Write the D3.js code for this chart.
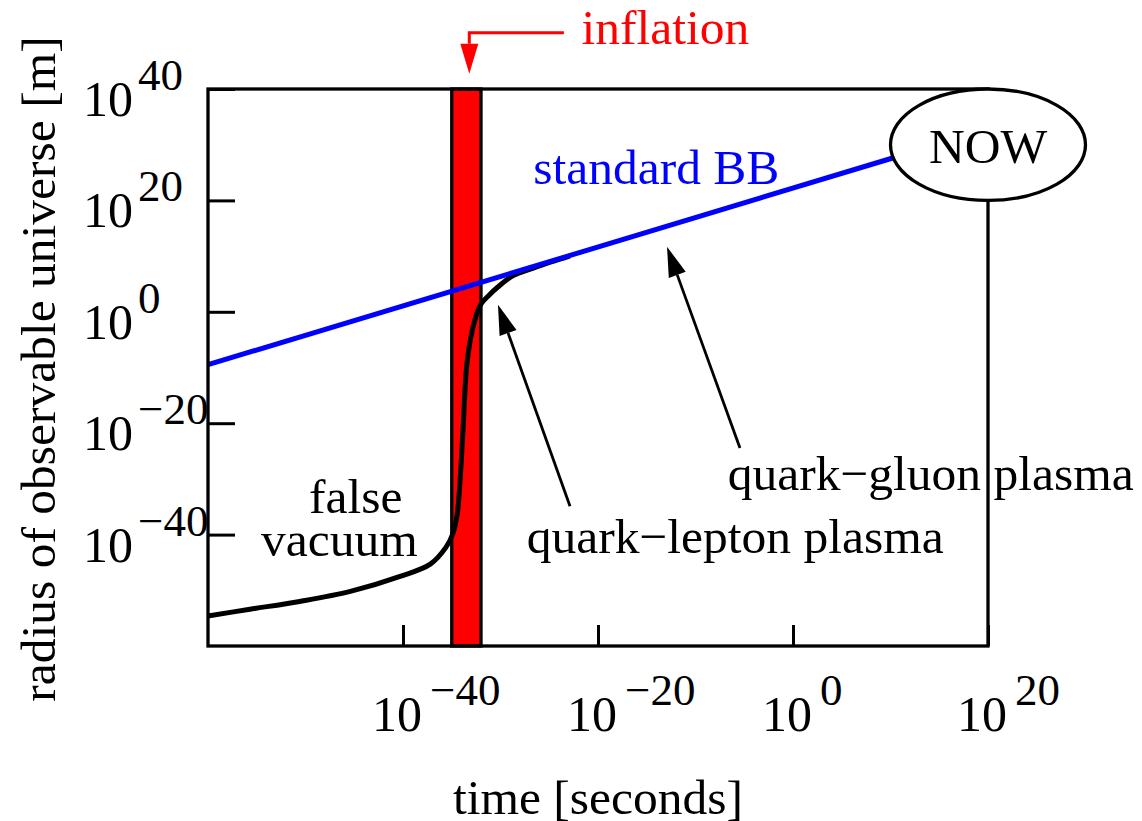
<!DOCTYPE html>
<html>
<head>
<meta charset="utf-8">
<script src="https://cdn.jsdelivr.net/npm/d3@7"></script>
<style>
  body { margin: 0; background: white; }
  svg text { font-family: "Liberation Serif", "Times New Roman", serif; }
</style>
</head>
<body>
<div id="plot"></div>
<script>
// all values are log10 (seconds / metres)
const timeTicks = [-40, -20, 0, 20];
const radiusTicks = [-40, -20, 0, 20, 40];

// standard big bang line
const bbTime = [-60, 10.4];
const bbRadius = [-9.5, 27.7];

// false vacuum -> inflation -> plasma track
const trackTime = [-60, -55.7, -50.6, -45.4, -40.3, -37.2, -35.6, -34.9, -34.45, -34.15,
  -33.85, -33.45, -32.9, -32.1, -31.1, -30.3, -28.7, -26.7, -24.9, -22.9];
const trackRadius = [-54.6, -53.4, -52.0, -50.2, -47.5, -45.3, -42.3, -39.9, -36.5, -30.4,
  -21.4, -9.5, -3.4, 1.1, 3.1, 4.4, 6.5, 7.8, 8.9, 10.0];

// inflation epoch
const inflation = [-35, -32];

// "NOW" bubble: centre and half width in decades
const nowCentre = [20, 30];
const nowHalf = 10;

const w = 1142;
const h = 821;
const margin = {top: 89, right: 154, bottom: 175, left: 208};
const innerWidth = w - margin.left - margin.right;
const innerHeight = h - margin.top - margin.bottom;
const fs = 49.5;

const svg = d3.select("div#plot")
  .append("svg")
  .attr("width", w)
  .attr("height", h)
  .attr("font-family", "Liberation Serif, serif");

svg.append("rect")
  .attr("width", w)
  .attr("height", h)
  .attr("fill", "white");

const x = d3.scaleLog()
  .domain([1e-60, 1e20])
  .range([margin.left, margin.left + innerWidth]);

const y = d3.scaleLog()
  .domain([1e-60, 1e40])
  .range([margin.top + innerHeight, margin.top]);

// helpers taking exponents
const X = e => x(Math.pow(10, e));
const Y = e => y(Math.pow(10, e));

// inflation band
svg.append("rect")
  .attr("x", X(inflation[0]))
  .attr("y", margin.top)
  .attr("width", X(inflation[1]) - X(inflation[0]))
  .attr("height", innerHeight)
  .attr("fill", "#ff0000")
  .attr("stroke", "black")
  .attr("stroke-width", 3.3);

// track curve
const track = trackTime.map((t, i) => [t, trackRadius[i]]);
const line = d3.line()
  .x(d => X(d[0]))
  .y(d => Y(d[1]))
  .curve(d3.curveCatmullRom.alpha(0.5));

svg.append("path")
  .datum(track)
  .attr("d", line)
  .attr("fill", "none")
  .attr("stroke", "black")
  .attr("stroke-width", 5);

// standard BB
svg.append("path")
  .datum(bbTime.map((t, i) => [t, bbRadius[i]]))
  .attr("d", d3.line().x(d => X(d[0])).y(d => Y(d[1])))
  .attr("fill", "none")
  .attr("stroke", "#0000ff")
  .attr("stroke-width", 5);

// frame
svg.append("rect")
  .attr("x", margin.left)
  .attr("y", margin.top)
  .attr("width", innerWidth)
  .attr("height", innerHeight)
  .attr("fill", "none")
  .attr("stroke", "black")
  .attr("stroke-width", 3.3);

// axes (ticks inward, labels drawn by hand for the superscripts)
svg.append("g")
  .attr("transform", `translate(0,${margin.top + innerHeight})`)
  .call(d3.axisBottom(x)
    .tickValues(timeTicks.map(e => Math.pow(10, e)))
    .tickSizeInner(-21).tickSizeOuter(0).tickFormat(""));

svg.append("g")
  .attr("transform", `translate(${margin.left},0)`)
  .call(d3.axisLeft(y)
    .tickValues(radiusTicks.map(e => Math.pow(10, e)))
    .tickSizeInner(-27).tickSizeOuter(0).tickFormat(""));

svg.selectAll(".domain").remove();
svg.selectAll(".tick line").attr("stroke", "black").attr("stroke-width", 3);

const sup = e => (e < 0 ? "\u2212" + (-e) : String(e));

function powLabel(px, py, e, gap) {
  const t = svg.append("text")
    .attr("x", px)
    .attr("y", py)
    .attr("fill", "black")
    .style("font-size", "50px");
  t.append("tspan").text("10");
  t.append("tspan")
    .attr("dx", gap)
    .attr("dy", -26)
    .style("font-size", "45px")
    .text(sup(e));
}

timeTicks.forEach(e => powLabel(X(e) - 31, margin.top + innerHeight + 85, e, 8));
radiusTicks.forEach(e => powLabel(margin.left - 125, Y(e) + 27, e, 5));

// axis titles
svg.append("text")
  .attr("x", margin.left + innerWidth / 2)
  .attr("y", 814)
  .style("text-anchor", "middle")
  .style("font-size", fs + "px")
  .text("time [seconds]");

svg.append("text")
  .attr("transform", "rotate(-90)")
  .attr("x", -369)
  .attr("y", 55)
  .style("text-anchor", "middle")
  .style("font-size", fs + "px")
  .text("radius of observable universe [m]");

// NOW bubble
svg.append("ellipse")
  .attr("cx", X(nowCentre[0]))
  .attr("cy", Y(nowCentre[1]))
  .attr("rx", X(nowCentre[0] + nowHalf) - X(nowCentre[0]))
  .attr("ry", Y(nowCentre[1] - nowHalf) - Y(nowCentre[1]))
  .attr("fill", "white")
  .attr("stroke", "black")
  .attr("stroke-width", 3.3);

svg.append("text")
  .attr("x", X(nowCentre[0]))
  .attr("y", Y(26.8))
  .style("text-anchor", "middle")
  .style("font-size", fs + "px")
  .text("NOW");

// labels, placed in (log t, log R)
const labels = [
  {t: -21.7, r: 48.1, text: "inflation", color: "#ff0000"},
  {t: -26.64, r: 22.96, text: "standard BB", color: "#0000ff"},
  {t: -49.64, r: -36.08, text: "false", color: "black"},
  {t: -54.56, r: -43.86, text: "vacuum", color: "black"},
  {t: -6.7, r: -32.0, text: "quark\u2212gluon plasma", color: "black"},
  {t: -27.31, r: -43.33, text: "quark\u2212lepton plasma", color: "black"}
];

svg.selectAll(".label")
  .data(labels)
  .enter()
  .append("text")
  .attr("class", "label")
  .attr("x", d => X(d.t))
  .attr("y", d => Y(d.r))
  .attr("fill", d => d.color)
  .style("font-size", fs + "px")
  .text(d => d.text);

// arrows
function arrowHead(x1, y1, x2, y2, color) {
  const len = 30, half = 9;
  const a = Math.atan2(y2 - y1, x2 - x1);
  const bx = x2 - len * Math.cos(a), by = y2 - len * Math.sin(a);
  const px = -Math.sin(a) * half, py = Math.cos(a) * half;
  svg.append("path")
    .attr("d", `M${x2},${y2}L${bx + px},${by + py}L${bx - px},${by - py}Z`)
    .attr("fill", color);
  return [bx, by];
}

const arrows = [
  {from: [-22.87, -34.9], to: [-30.26, 1.26]},
  {from: [-5.44, -24.45], to: [-12.92, 11.69]}
];

arrows.forEach(d => {
  const x1 = X(d.from[0]), y1 = Y(d.from[1]);
  const x2 = X(d.to[0]), y2 = Y(d.to[1]);
  const b = arrowHead(x1, y1, x2, y2, "black");
  svg.append("line")
    .attr("x1", x1).attr("y1", y1)
    .attr("x2", b[0]).attr("y2", b[1])
    .attr("stroke", "black")
    .attr("stroke-width", 2.8);
});

// bent arrow pointing at the inflation band
const bend = [[-23.5, 50.1], [-33.2, 50.1], [-33.2, 42.73]];
const bx = X(bend[1][0]);
const base = arrowHead(bx, Y(bend[1][1]), bx, Y(bend[2][1]), "#ff0000");
svg.append("path")
  .attr("d", `M${X(bend[0][0])},${Y(bend[0][1])}L${bx},${Y(bend[1][1])}L${base[0]},${base[1]}`)
  .attr("fill", "none")
  .attr("stroke", "#ff0000")
  .attr("stroke-width", 3);
</script>
</body>
</html>
